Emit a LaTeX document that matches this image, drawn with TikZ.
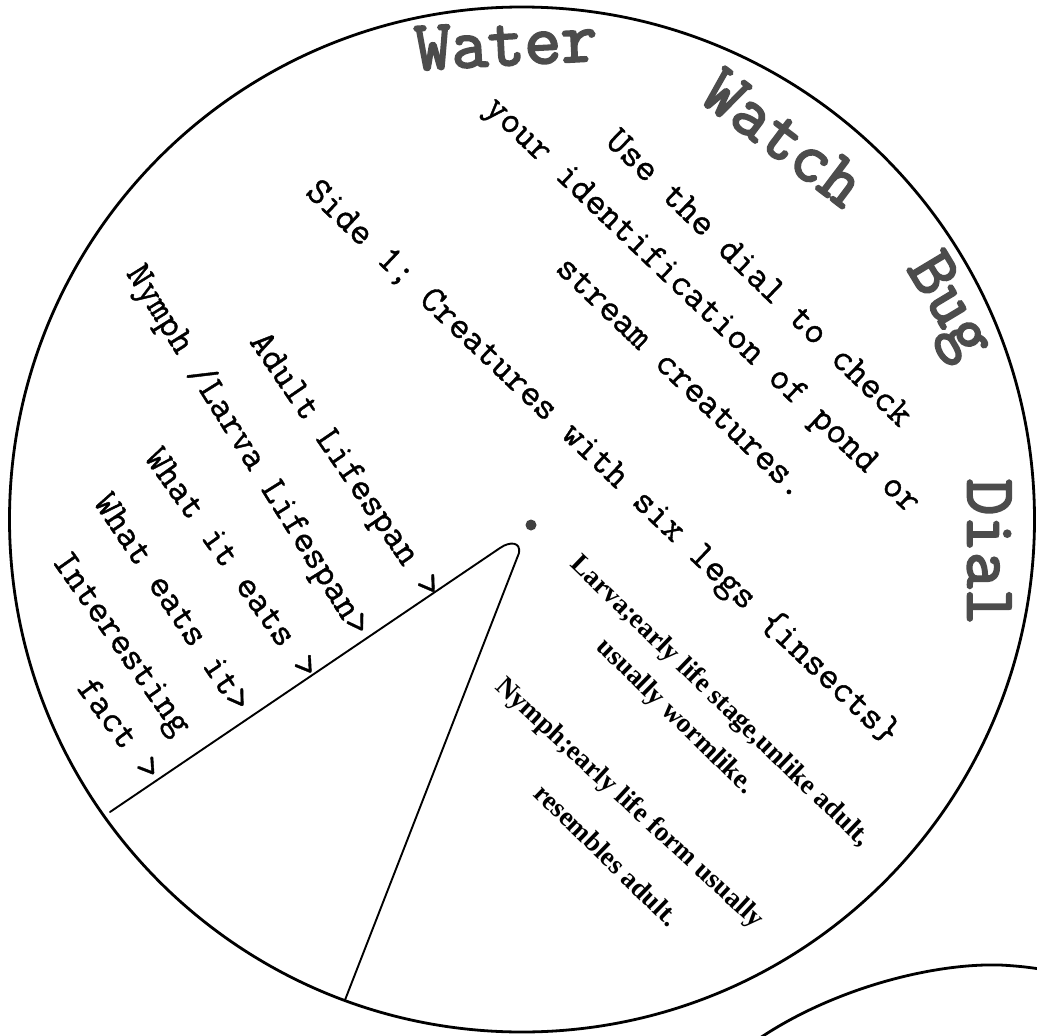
\documentclass[tikz,border=0pt]{standalone}
\usepackage{fontspec}
\newfontfamily\titlefam{Latin Modern Mono}[FakeBold=3]
\newfontfamily\monofam{Latin Modern Mono}[FakeBold=1]
\newfontfamily\seriffam{Liberation Serif}
\newcommand\titlefnt{\titlefam\fontsize{71}{71}\selectfont}
\newcommand\bodyfnt{\monofam\fontsize{38}{38}\selectfont}
\newcommand\notefnt{\seriffam\bfseries\fontsize{27.5}{27.5}\selectfont}
\begin{document}
\begin{tikzpicture}[x=1pt,y=-1pt,
  titletext/.style={font=\titlefnt, text=black!70, inner sep=0pt, text height=0.45em, text depth=0pt},
  bodytext/.style={font=\bodyfnt, text=black, inner sep=0pt, text height=0.45em, text depth=0pt},
  notetext/.style={font=\notefnt, text=black, inner sep=0pt, text height=0.45em, text depth=0pt},
  rim/.style={line width=2.8pt, line cap=round, line join=round},
  wedgeline/.style={line width=1.9pt, line cap=round, line join=round}]
\useasboundingbox (0,0) rectangle (1037,1036);
\fill[white] (0,0) rectangle (1037,1036);
% dial rim
\draw[rim] (522,519.5) circle[radius=512.5pt];
% edge of the disc underneath
\draw[rim] (757,1040) .. controls (830,990) and (930,963) .. (1000,965) .. controls (1020,966) and (1035,968) .. (1045,970);
% pivot dot
\node[circle, fill=black!75, inner sep=0pt, minimum size=11pt] (pivot) at (531,525) {};
% window wedge
\coordinate (wl) at (110,812);
\coordinate (wa) at (500,548);
\coordinate (wc) at (519,553);
\coordinate (wb) at (345,1000);
\draw[wedgeline] (wl) -- (wa) .. controls (510,541) and (521,542) .. (wc) -- (wb);
% title
\node[titletext, rotate=3] (tWater) at (507,63) {Water};
\node[titletext, rotate=-37] (tWatch) at (772,153) {Watch};
\node[titletext, rotate=-59] (tBug) at (936,314) {Bug};
\node[titletext, rotate=-90] (tDial) at (970,552) {Dial};
% instructions
\node[bodytext, rotate=-44] (l1) at (753.5,284) {Use the dial to check};
\node[bodytext, rotate=-43.6] (l2) at (697.5,310.5) {your identification of pond or};
\node[bodytext, rotate=-43.8] (l3) at (676,383.5) {stream creatures.};
\node[bodytext, rotate=-43.5] (l4) at (597,468) {Side 1; Creatures with six legs \{insects\}};
% left labels
\node[bodytext, rotate=-55.6] (a1) at (339,469.5) {Adult Lifespan >};
\node[bodytext, rotate=-58] (a2) at (241.5,454.5) {Nymph /Larva Lifespan>};
\node[bodytext, rotate=-54.5] (a3) at (225,568) {What it eats >};
\node[bodytext, rotate=-56.2] (a4) at (165.5,607) {What eats it>};
\node[bodytext, rotate=-54.8] (a5) at (115.5,648) {Interesting};
\node[bodytext, rotate=-53.6] (a6) at (112.5,734) {fact >};
% definitions
\node[notetext, rotate=-44] (d1) at (717,705) {Larva;early life stage,unlike adult,};
\node[notetext, rotate=-44.4] (d2) at (672,720) {usually wormlike.};
\node[notetext, rotate=-42.8] (d3) at (626,807) {Nymph;early life form usually};
\node[notetext, rotate=-44.3] (d4) at (602,860) {resembles adult.};
\end{tikzpicture}
\end{document}
